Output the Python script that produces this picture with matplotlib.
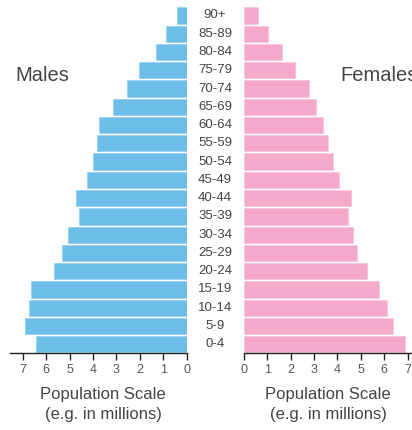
import matplotlib
matplotlib.use("Agg")
import matplotlib.pyplot as plt

plt.rcParams['font.family'] = ['Liberation Sans', 'DejaVu Sans']

age_groups = ["0-4", "5-9", "10-14", "15-19", "20-24", "25-29", "30-34", "35-39",
              "40-44", "45-49", "50-54", "55-59", "60-64", "65-69", "70-74",
              "75-79", "80-84", "85-89", "90+"]
males = [6.44, 6.90, 6.73, 6.63, 5.66, 5.31, 5.05, 4.61, 4.72, 4.24, 4.01,
         3.83, 3.76, 3.13, 2.56, 2.02, 1.32, 0.90, 0.43]
females = [6.88, 6.36, 6.11, 5.77, 5.25, 4.84, 4.65, 4.45, 4.59, 4.07, 3.80,
           3.60, 3.37, 3.09, 2.80, 2.19, 1.62, 1.04, 0.62]
ticks = [0, 1, 2, 3, 4, 5, 6, 7]

W, H = 412, 430
fig = plt.figure(figsize=(W / 100, H / 100), dpi=100)

male_color = "#6dbfea"
female_color = "#f4a8ca"
text_color = "#444444"

y_top_px = 6.0
y_bot_px = 353.0
n = len(age_groups)
ax_bottom = 1 - y_bot_px / H
ax_height = (y_bot_px - y_top_px) / H
ylim = (-0.48, n - 0.5 + 0.02)

scale = 164 / 7.0  # px per unit
# left axes
l_x0, l_zero = 10.0, 186.7
axL = fig.add_axes([l_x0 / W, ax_bottom, (l_zero - l_x0) / W, ax_height])
# right axes
r_zero, r_x1 = 243.7, 412.0
axR = fig.add_axes([r_zero / W, ax_bottom, (r_x1 - r_zero) / W, ax_height])

ypos = list(range(n))
axL.barh(ypos, males, height=0.89, color=male_color, edgecolor="#8fd0f0", linewidth=0.5)
axR.barh(ypos, females, height=0.89, color=female_color, edgecolor="#f8c3da", linewidth=0.5)

axL.set_xlim((l_zero - l_x0) / scale, 0)
axR.set_xlim(0, (r_x1 - r_zero) / scale)

for ax in (axL, axR):
    ax.set_ylim(*ylim)
    ax.set_yticks([])
    for s in ("top", "left", "right"):
        ax.spines[s].set_visible(False)
    ax.spines["bottom"].set_color("#222222")
    ax.spines["bottom"].set_linewidth(1.0)
    ax.set_xticks(ticks)
    ax.tick_params(axis="x", direction="out", length=5, width=1, color="#222222",
                   labelsize=9, labelcolor="#555555", pad=3)
    ax.set_facecolor("none")

# age labels in the middle
for i, lab in enumerate(age_groups):
    y_fig = ax_bottom + (i - ylim[0]) / (ylim[1] - ylim[0]) * ax_height
    fig.text(215 / W, y_fig, lab, ha="center", va="center", fontsize=9.5, color=text_color)

fig.text(15 / W, 1 - 75.5 / H, "Males", ha="left", va="center", fontsize=14.5, color=text_color)
fig.text(340 / W, 1 - 75.5 / H, "Females", ha="left", va="center", fontsize=14.5, color=text_color)

for cx in (103, 328):
    fig.text(cx / W, 1 - 395 / H, "Population Scale", ha="center", va="center",
             fontsize=12, color=text_color)
    fig.text(cx / W, 1 - 415 / H, "(e.g. in millions)", ha="center", va="center",
             fontsize=12, color=text_color)

fig.savefig("out.png", dpi=100, facecolor="white")
